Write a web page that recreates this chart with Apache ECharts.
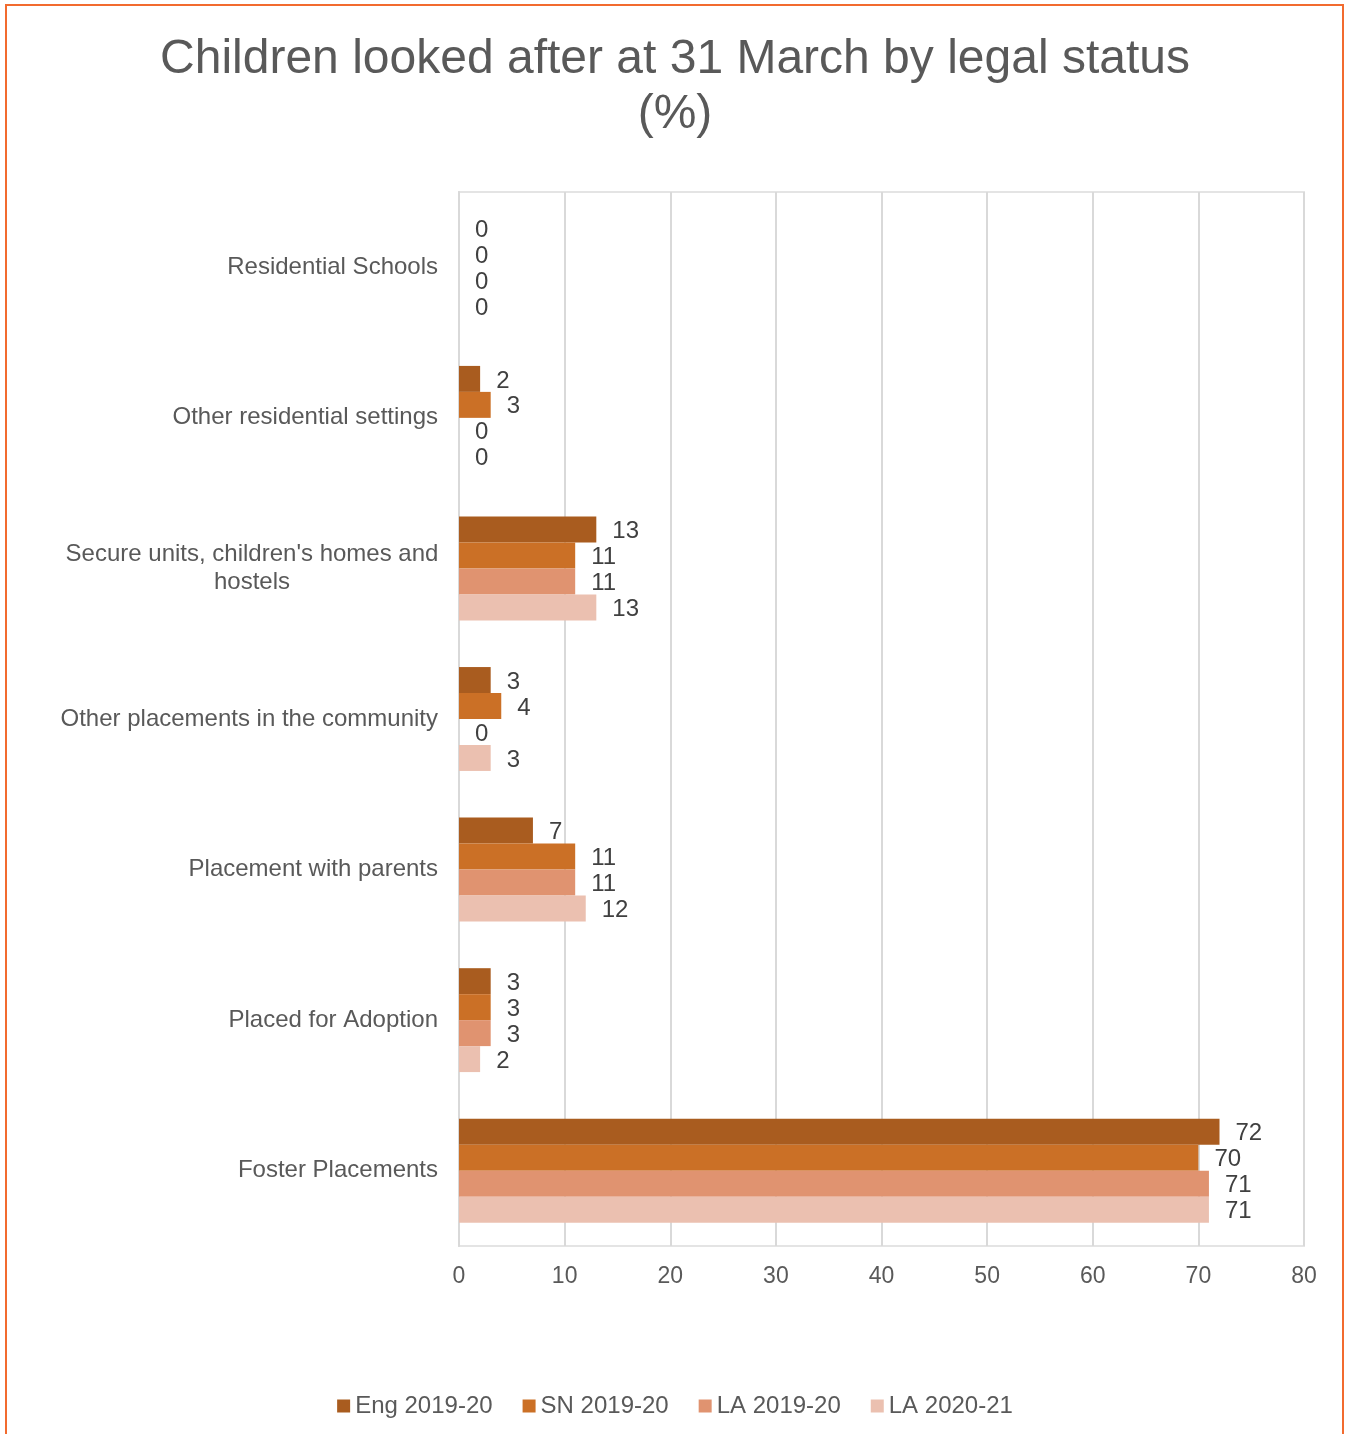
<!DOCTYPE html>
<html><head><meta charset="utf-8">
<script src="https://cdn.jsdelivr.net/npm/echarts@6/dist/echarts.min.js"></script>
<style>
html,body{margin:0;padding:0;background:#fff;}
#frame{position:absolute;left:5px;top:4px;width:1339px;height:1440px;border:2px solid #F26B2F;box-sizing:border-box;}
#c{position:absolute;left:0;top:0;width:1350px;height:1434px;}
</style></head>
<body>
<div id="frame"></div>
<div id="c"></div>
<script>
const categories = ["Residential Schools","Other residential settings","Secure units, children's homes and hostels","Other placements in the community","Placement with parents","Placed for Adoption","Foster Placements"];
const seriesNames = ["Eng 2019-20","SN 2019-20","LA 2019-20","LA 2020-21"];
const eng1920 = [0,2,13,3,7,3,72];
const sn1920 = [0,3,11,4,11,3,70];
const la1920 = [0,0,11,0,11,3,71];
const la2021 = [0,0,13,3,12,2,71];
const xTicks = {min:0,max:80,interval:10};
const colors = ["#A95C1F","#CB7026","#E09370","#EBC0B0"];
const values = [eng1920, sn1920, la1920, la2021];

const chart = echarts.init(document.getElementById('c'));
const font = 'Arial, "Liberation Sans", sans-serif';
chart.setOption({
  animation:false,
  textStyle:{fontFamily:font},
  title:{text:'Children looked after at 31 March by legal status\n(%)',left:'center',top:27,
    textStyle:{fontSize:48,fontWeight:'normal',color:'#595959',fontFamily:font,lineHeight:55}},
  legend:{bottom:11,left:'center',itemWidth:13,itemHeight:13,itemGap:30,icon:'rect',
    textStyle:{fontSize:24,color:'#595959',fontFamily:font,padding:[0,0,0,0]}},
  grid:{left:459,right:46,top:192,bottom:188,show:true,borderColor:'#E4E4E4',borderWidth:2},
  xAxis:{type:'value',min:xTicks.min,max:xTicks.max,interval:xTicks.interval,
    axisLine:{show:false},axisTick:{show:false},
    splitLine:{lineStyle:{color:'#D9D9D9',width:2}},
    axisLabel:{fontSize:23,color:'#595959',margin:19,fontFamily:font}},
  yAxis:{type:'category',data:categories,inverse:true,
    axisLine:{lineStyle:{color:'#D9D9D9',width:2}},axisTick:{show:false},
    axisLabel:{fontSize:24,color:'#595959',margin:21,align:'right',fontFamily:font,
      formatter:function(v){
        const words=v.split(' ');
        if(v.length>36){
          const first=words.slice(0,-1).join(' '), last=words[words.length-1];
          return '{c|'+first+'}\n{c|'+last+'}';
        }
        return v;
      },
      rich:{c:{width:372,align:'center',fontSize:24,lineHeight:28,color:'#595959',fontFamily:font}}}},
  series:values.map((v,i)=>({
    name:seriesNames[i],type:'bar',data:v,barGap:'0%',barCategoryGap:'31%',
    itemStyle:{color:colors[i]},
    label:{show:true,position:'right',distance:16,offset:[0,2],fontSize:24,color:'#404040',fontFamily:font}
  }))
});
</script>
</body></html>
